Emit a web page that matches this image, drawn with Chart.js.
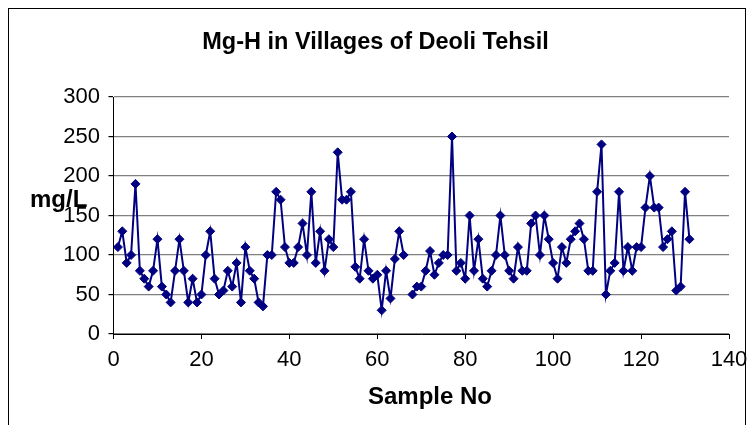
<!DOCTYPE html>
<html>
<head>
<meta charset="utf-8">
<title>Mg-H in Villages of Deoli Tehsil</title>
<script src="https://cdn.jsdelivr.net/npm/chart.js@4.4.1/dist/chart.umd.min.js"></script>
<style>
  html, body { margin: 0; padding: 0; background: #fff; }
  #wrap { position: relative; width: 751px; height: 425px; overflow: hidden; }
  #frame { position: absolute; left: 8px; top: 8px; width: 736px; height: 460px; border: 1px solid #000; }
  #myChart { position: absolute; left: 0; top: 0; }
</style>
</head>
<body>
<div id="wrap">
  <div id="frame"></div>
  <canvas id="myChart" width="751" height="425"></canvas>
</div>
<script>
// sample numbers along the x axis
const sampleNo = [
  1, 2, 3, 4, 5, 6, 7, 8, 9, 10, 11, 12, 13, 14, 15, 16, 17, 18, 19, 20,
  21, 22, 23, 24, 25, 26, 27, 28, 29, 30, 31, 32, 33, 34, 35, 36, 37, 38, 39, 40,
  41, 42, 43, 44, 45, 46, 47, 48, 49, 50, 51, 52, 53, 54, 55, 56, 57, 58, 59, 60,
  61, 62, 63, 64, 65, 66, 67, 68, 69, 70, 71, 72, 73, 74, 75, 76, 77, 78, 79, 80,
  81, 82, 83, 84, 85, 86, 87, 88, 89, 90, 91, 92, 93, 94, 95, 96, 97, 98, 99, 100,
  101, 102, 103, 104, 105, 106, 107, 108, 109, 110, 111, 112, 113, 114, 115, 116, 117, 118, 119, 120,
  121, 122, 123, 124, 125, 126, 127, 128, 129, 130, 131
];

// Mg hardness, mg/L (sample 67 has no value -> gap in the line)
const mgH = [
  110, 130, 90, 100, 190, 80, 70, 60, 80, 120, 60, 50, 40, 80, 120, 80, 40, 70, 40, 50,
  100, 130, 70, 50, 55, 80, 60, 90, 40, 110, 80, 70, 40, 35, 100, 100, 180, 170, 110, 90,
  90, 110, 140, 100, 180, 90, 130, 80, 120, 110, 230, 170, 170, 180, 85, 70, 120, 80, 70, 75,
  30, 80, 45, 95, 130, 100, null, 50, 60, 60, 80, 105, 75, 90, 100, 100, 250, 80, 90, 70,
  150, 80, 120, 70, 60, 80, 100, 150, 100, 80, 70, 110, 80, 80, 140, 150, 100, 150, 120, 90,
  70, 110, 90, 120, 130, 140, 120, 80, 80, 180, 240, 50, 80, 90, 180, 80, 110, 80, 110, 110,
  160, 200, 160, 160, 110, 120, 130, 55, 60, 180, 120
];

const xTickValues = [0, 20, 40, 60, 80, 100, 120, 140];
const yTickValues = [0, 50, 100, 150, 200, 250, 300];

const FONT = "Arial, 'Liberation Sans', sans-serif";
const navy = "#000080";

const points = sampleNo.map((n, i) => ({ x: n, y: mgH[i] }));

// axis captions placed like the original (y caption is horizontal)
const axisCaptions = {
  id: "axisCaptions",
  afterDraw(chart) {
    const ctx = chart.ctx;
    ctx.save();
    ctx.font = "bold 24px " + FONT;
    ctx.fillStyle = "#000";
    ctx.textBaseline = "middle";
    ctx.textAlign = "left";
    ctx.fillText("mg/L", 30, 200);
    ctx.textAlign = "center";
    ctx.fillText("Sample No", 430, 397);
    ctx.restore();
  }
};

const myChart = new Chart("myChart", {
  type: "scatter",
  data: {
    datasets: [
      {
        label: "Mg-H",
        data: points,
        showLine: true,
        spanGaps: false,
        borderColor: navy,
        backgroundColor: navy,
        borderWidth: 2,
        pointStyle: "rectRot",
        pointRadius: 4.5,
        pointBorderWidth: 1,
        pointBorderColor: navy,
        pointBackgroundColor: navy,
      },
    ],
  },
  options: {
    responsive: false,
    animation: false,
    layout: { padding: { top: 0, right: 22, bottom: 0, left: 22 } },
    plugins: {
      legend: { display: false },
      tooltip: { enabled: false },
      title: {
        display: true,
        text: "Mg-H in Villages of Deoli Tehsil",
        color: "#000",
        font: { family: FONT, size: 23.5, weight: "bold" },
        padding: { top: 28, bottom: 40.8 },
      },
    },
    scales: {
      x: {
        type: "linear",
        min: 0,
        max: 140,
        afterBuildTicks: (s) => { s.ticks = xTickValues.map((v) => ({ value: v })); },
        afterFit: (s) => { s.height = 91; s.paddingLeft = 0; s.paddingRight = 0; },
        border: { color: "#000", width: 1 },
        grid: { drawOnChartArea: false, tickLength: 5, color: "#000" },
        ticks: { color: "#000", font: { family: FONT, size: 22 }, padding: 8, maxRotation: 0 },
      },
      y: {
        min: 0,
        max: 300,
        afterBuildTicks: (s) => { s.ticks = yTickValues.map((v) => ({ value: v })); },
        afterFit: (s) => { s.width = 91.5; },
        border: { color: "#000", width: 1 },
        grid: { color: "#808080", tickColor: "#000", tickLength: 5, lineWidth: 1.2 },
        ticks: { color: "#000", font: { family: FONT, size: 22 }, padding: 8.5 },
      },
    },
  },
  plugins: [axisCaptions],
});
</script>
</body>
</html>
